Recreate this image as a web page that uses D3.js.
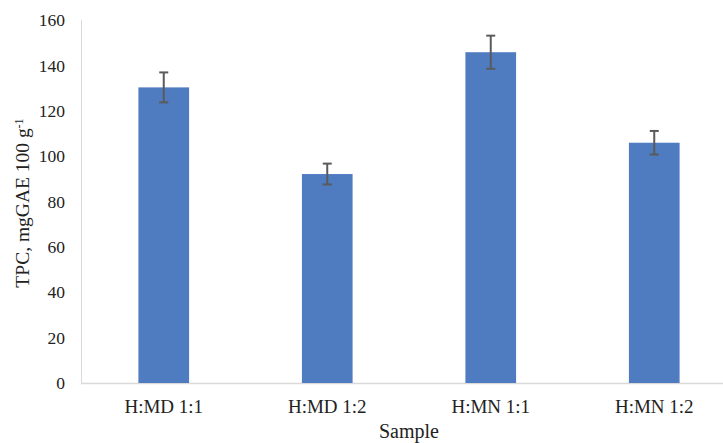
<!DOCTYPE html>
<html><head><meta charset="utf-8">
<script src="https://cdn.jsdelivr.net/npm/d3@7"></script>
<style>body{margin:0;background:#fff}svg{display:block}svg text{font-family:"Liberation Serif","DejaVu Serif",serif}</style>
</head><body>
<svg id="c" width="723" height="443"></svg>
<script>
const categories = ["H:MD 1:1", "H:MD 1:2", "H:MN 1:1", "H:MN 1:2"];
const values = [130.3, 92.1, 145.8, 105.9];
const errors = [6.6, 4.6, 7.3, 5.2];
const yTicks = [0, 20, 40, 60, 80, 100, 120, 140, 160];

const svg = d3.select("#c");
const x = d3.scaleBand().domain(categories).range([82, 736]).paddingInner(0.69).paddingOuter(0.345);
const y = d3.scaleLinear().domain([0, 160]).range([383, 20]);

// left axis line
svg.append("line").attr("x1", 81.5).attr("x2", 81.5).attr("y1", y(160)).attr("y2", y(0))
  .attr("stroke", "#d9d9d9").attr("stroke-width", 1);
// bottom axis line
svg.append("line").attr("x1", 81).attr("x2", 736).attr("y1", 383.5).attr("y2", 383.5)
  .attr("stroke", "#d9d9d9").attr("stroke-width", 1.5);

// y tick labels
svg.append("g").selectAll("text").data(yTicks).join("text")
  .attr("x", 65).attr("y", d => y(d)).attr("dy", "0.35em")
  .attr("text-anchor", "end").attr("font-size", 17.5).attr("fill", "#222")
  .text(d => d);

// bars
svg.append("g").selectAll("rect").data(categories).join("rect")
  .attr("x", d => x(d)).attr("width", x.bandwidth())
  .attr("y", (d, i) => y(values[i])).attr("height", (d, i) => y(0) - y(values[i]))
  .attr("fill", "#4f7bc1");

// error bars
const eb = svg.append("g").attr("stroke", "#5a5a5a").attr("stroke-width", 2);
categories.forEach((c, i) => {
  const cx = x(c) + x.bandwidth() / 2;
  const t = y(values[i] + errors[i]), b = y(values[i] - errors[i]);
  eb.append("line").attr("x1", cx).attr("x2", cx).attr("y1", t).attr("y2", b);
  eb.append("line").attr("x1", cx - 4.5).attr("x2", cx + 4.5).attr("y1", t).attr("y2", t);
  eb.append("line").attr("x1", cx - 4.5).attr("x2", cx + 4.5).attr("y1", b).attr("y2", b);
});

// category labels
svg.append("g").selectAll("text").data(categories).join("text")
  .attr("x", d => x(d) + x.bandwidth() / 2).attr("y", 406.5).attr("dy", "0.35em")
  .attr("text-anchor", "middle").attr("font-size", 19).attr("fill", "#222")
  .text(d => d);

// x title
svg.append("text").attr("x", 409).attr("y", 431).attr("dy", "0.35em")
  .attr("text-anchor", "middle").attr("font-size", 20).attr("fill", "#222")
  .text("Sample");

// y title
const yt = svg.append("text").attr("transform", "translate(22,203) rotate(-90)")
  .attr("dy", "0.35em").attr("text-anchor", "middle")
  .attr("font-size", 19.5).attr("fill", "#222");
yt.append("tspan").text("TPC, mgGAE 100 g");
yt.append("tspan").attr("dy", "-0.45em").attr("font-size", 12).text("-1");
</script>
</body></html>
